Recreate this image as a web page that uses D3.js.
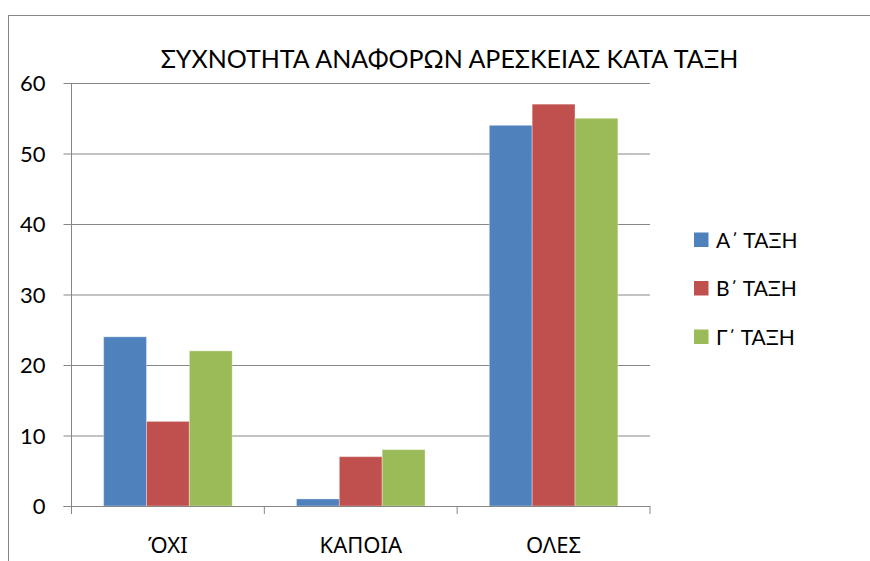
<!DOCTYPE html>
<html>
<head>
<meta charset="utf-8">
<script src="https://cdn.jsdelivr.net/npm/d3@7"></script>
<style>
  html, body { margin: 0; padding: 0; background: #fff; }
  svg { display: block; }
  text { font-family: "Lato", "Noto Sans", "Liberation Sans", sans-serif; fill: #000; }
</style>
</head>
<body>
<svg id="chart" width="870" height="561"></svg>
<script>
const title = "ΣΥΧΝΟΤΗΤΑ ΑΝΑΦΟΡΩΝ ΑΡΕΣΚΕΙΑΣ ΚΑΤΑ ΤΑΞΗ";
const categories = ["ΌΧΙ", "ΚΑΠΟΙΑ", "ΟΛΕΣ"];
const seriesNames = ["Α΄ ΤΑΞΗ", "Β΄ ΤΑΞΗ", "Γ΄ ΤΑΞΗ"];
const seriesA = [24, 1, 54];
const seriesB = [12, 7, 57];
const seriesC = [22, 8, 55];
const yTicks = [0, 10, 20, 30, 40, 50, 60];
const colors = ["#4F81BD", "#C0504D", "#9BBB59"];

const seriesValues = [seriesA, seriesB, seriesC];
const svg = d3.select("#chart");
const gridColor = "#868686";

// outer chart border
svg.append("rect")
  .attr("x", 8.5).attr("y", 15.5)
  .attr("width", 900).attr("height", 600)
  .attr("fill", "none").attr("stroke", gridColor).attr("stroke-width", 1);

const plot = { left: 71.5, right: 650, top: 83, bottom: 506 };

const y = d3.scaleLinear().domain([0, 60]).range([plot.bottom, plot.top]);
const x0 = d3.scaleBand().domain(categories).range([plot.left, plot.right]).paddingInner(0).paddingOuter(0);
const x1 = d3.scaleBand().domain(seriesNames).range([0, x0.bandwidth()]).paddingInner(0).paddingOuter(0.75);

// gridlines + y axis
const yAxis = d3.axisLeft(y).tickValues(yTicks).tickSize(-(plot.right - plot.left)).tickPadding(0).tickFormat(d3.format("d"));
const gy = svg.append("g").attr("transform", `translate(${plot.left},0)`).call(yAxis);
gy.select(".domain").remove();
gy.selectAll(".tick line").attr("stroke", gridColor).attr("x1", -8).attr("stroke-width", 1);
gy.selectAll(".tick text")
  .attr("x", -26)
  .attr("dy", "0.36em")
  .style("font-size", "22px");

// bars
const groups = svg.append("g").selectAll("g")
  .data(categories)
  .join("g")
  .attr("transform", d => `translate(${x0(d)},0)`);

groups.selectAll("rect")
  .data((c, ci) => seriesNames.map((s, si) => ({ s, si, v: seriesValues[si][ci] })))
  .join("rect")
  .attr("x", d => x1(d.s))
  .attr("y", d => y(d.v))
  .attr("width", x1.bandwidth())
  .attr("height", d => y(0) - y(d.v))
  .attr("fill", d => colors[d.si])
  .attr("stroke", "#ffffff")
  .attr("stroke-opacity", 0.35)
  .attr("stroke-width", 1);

// y axis line
svg.append("line")
  .attr("x1", plot.left).attr("x2", plot.left)
  .attr("y1", plot.top).attr("y2", plot.bottom)
  .attr("stroke", gridColor);

// x axis
const xAxis = d3.axisBottom(x0).tickSize(0).tickPadding(0);
const gx = svg.append("g").attr("transform", `translate(0,${plot.bottom})`).call(xAxis);
gx.select(".domain").attr("stroke", gridColor).attr("d", `M${plot.left - 8},0.5H${plot.right}`);
gx.selectAll(".tick text")
  .attr("y", 39).attr("dy", "0.36em")
  .style("font-family", "'Noto Sans', 'Liberation Sans', sans-serif")
  .style("font-size", "22px");
// category boundary ticks
const bounds = categories.map(c => x0(c)).concat([x0(categories[categories.length - 1]) + x0.bandwidth()]);
gx.selectAll(".bound").data(bounds).join("line")
  .attr("class", "bound")
  .attr("x1", d => d).attr("x2", d => d)
  .attr("y1", 0).attr("y2", 8)
  .attr("stroke", gridColor);

// title
svg.append("text")
  .attr("x", 449.5).attr("y", 68)
  .attr("text-anchor", "middle")
  .style("font-size", "25px")
  .text(title);

// legend
const legend = svg.append("g").selectAll("g")
  .data(seriesNames)
  .join("g")
  .attr("transform", (d, i) => `translate(694,${240 + i * 48.5})`);
legend.append("rect")
  .attr("x", 0).attr("y", -7.5).attr("width", 14.5).attr("height", 14.5)
  .attr("fill", (d, i) => colors[i]);
legend.append("text")
  .attr("x", 22).attr("y", 0).attr("dy", "0.36em")
  .style("font-size", "21px")
  .text(d => d);
</script>
</body>
</html>
